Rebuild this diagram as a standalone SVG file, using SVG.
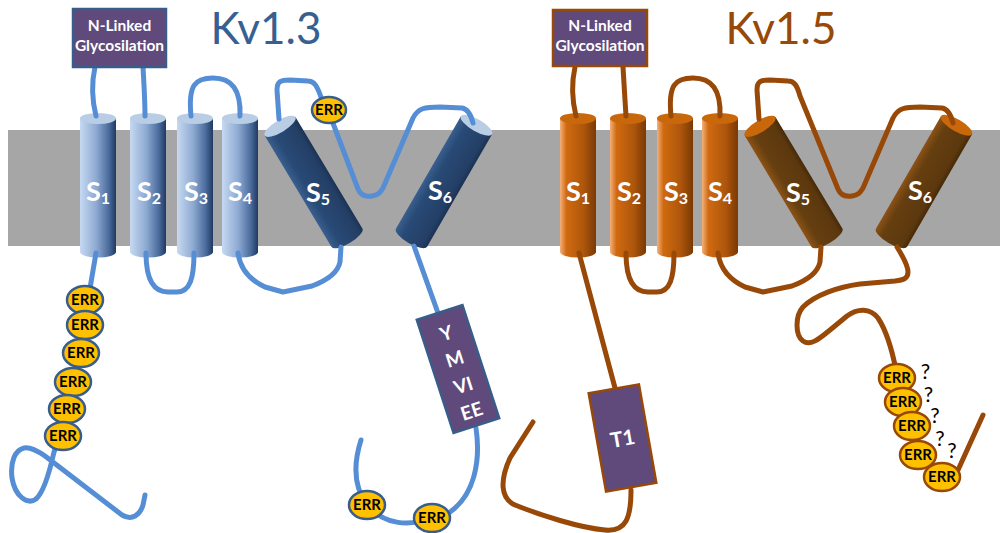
<svg xmlns="http://www.w3.org/2000/svg" width="1000" height="533" viewBox="0 0 1000 533">
  <defs>
    <linearGradient id="gBlue" x1="0" y1="0" x2="1" y2="0">
      <stop offset="0" stop-color="#c6d9f1"/>
      <stop offset="0.45" stop-color="#8eaad2"/>
      <stop offset="0.8" stop-color="#4a6b9c"/>
      <stop offset="1" stop-color="#1f3a62"/>
    </linearGradient>
    <linearGradient id="gNavy" x1="0" y1="0" x2="1" y2="0">
      <stop offset="0" stop-color="#3a5f8e"/>
      <stop offset="0.25" stop-color="#284a76"/>
      <stop offset="0.85" stop-color="#243f66"/>
      <stop offset="1" stop-color="#1b3254"/>
    </linearGradient>
    <linearGradient id="gOrange" x1="0" y1="0" x2="1" y2="0">
      <stop offset="0" stop-color="#f4b07a"/>
      <stop offset="0.18" stop-color="#d06a10"/>
      <stop offset="0.65" stop-color="#ae560c"/>
      <stop offset="1" stop-color="#7a3905"/>
    </linearGradient>
    <linearGradient id="gBrown" x1="0" y1="0" x2="1" y2="0">
      <stop offset="0" stop-color="#8c5216"/>
      <stop offset="0.25" stop-color="#663f10"/>
      <stop offset="0.85" stop-color="#5c380e"/>
      <stop offset="1" stop-color="#472a08"/>
    </linearGradient>
    <style>
      .title { font-family: Lato, "Liberation Sans", sans-serif; font-size: 44px; text-anchor: middle; }
      .lbl { font-family: Lato, "Liberation Sans", sans-serif; font-weight: bold; fill: #ffffff; text-anchor: middle; }
      .seg { font-size: 27px; }
      .sub { font-size: 16px; }
      .glyc { font-size: 15.5px; }
      .err { font-family: Lato, "Liberation Sans", sans-serif; font-weight: bold; font-size: 15px; fill: #000000; text-anchor: middle; }
      .q { font-family: Lato, "Liberation Sans", sans-serif; font-size: 21px; fill: #000000; text-anchor: middle; }
      .chainA { fill: none; stroke: #558ed5; stroke-width: 5; stroke-linecap: round; stroke-linejoin: round; }
      .chainB { fill: none; stroke: #984807; stroke-width: 5; stroke-linecap: round; stroke-linejoin: round; }
      .boxA { fill: #604a7b; stroke: #385d8a; stroke-width: 2.5; }
      .boxB { fill: #604a7b; stroke: #984807; stroke-width: 2.5; }
      .errA { fill: #ffc000; stroke: #385d8a; stroke-width: 2.5; }
      .errB { fill: #ffc000; stroke: #984807; stroke-width: 2.5; }
      .topBlue { fill: #b9cde5; }
      .topOrange { fill: #c8680b; }
    </style>
    <!-- cylinder body templates: straight helix and tilted helix -->
    <path id="cylV" d="M-18,-66.5 L-18,67 A18,5.5 0 0 0 18,67 L18,-66.5 Z"/>
    <path id="cylT" d="M-18,-65 L-18,65 A18,6 0 0 0 18,65 L18,-65 Z"/>
  </defs>

  <!-- lipid membrane -->
  <rect x="8" y="130" width="992" height="116" fill="#a6a6a6"/>

  <!-- titles -->
  <text class="title" x="266" y="44" fill="#376092">Kv1.3</text>
  <text class="title" x="781" y="44" fill="#984807">Kv1.5</text>

  <!-- Kv1.3 helices -->
  <g id="kv13-s1" transform="translate(98,185)"><use href="#cylV" fill="url(#gBlue)"/><ellipse cx="0" cy="-66.5" rx="18" ry="5.5" class="topBlue"/></g>
  <g id="kv13-s2" transform="translate(148,185)"><use href="#cylV" fill="url(#gBlue)"/><ellipse cx="0" cy="-66.5" rx="18" ry="5.5" class="topBlue"/></g>
  <g id="kv13-s3" transform="translate(195,185)"><use href="#cylV" fill="url(#gBlue)"/><ellipse cx="0" cy="-66.5" rx="18" ry="5.5" class="topBlue"/></g>
  <g id="kv13-s4" transform="translate(240,185)"><use href="#cylV" fill="url(#gBlue)"/><ellipse cx="0" cy="-66.5" rx="18" ry="5.5" class="topBlue"/></g>
  <g id="kv13-s5" transform="translate(313.5,182) rotate(-31)"><use href="#cylT" fill="url(#gNavy)"/><ellipse cx="0" cy="-65" rx="18" ry="6" class="topBlue"/></g>
  <g id="kv13-s6" transform="translate(444,181.5) rotate(30)"><use href="#cylT" fill="url(#gNavy)"/><ellipse cx="0" cy="-65" rx="18" ry="6" class="topBlue"/></g>

  <!-- Kv1.5 helices -->
  <g id="kv15-s1" transform="translate(578,185)"><use href="#cylV" fill="url(#gOrange)"/><ellipse cx="0" cy="-66.5" rx="18" ry="5.5" class="topOrange"/></g>
  <g id="kv15-s2" transform="translate(628,185)"><use href="#cylV" fill="url(#gOrange)"/><ellipse cx="0" cy="-66.5" rx="18" ry="5.5" class="topOrange"/></g>
  <g id="kv15-s3" transform="translate(675,185)"><use href="#cylV" fill="url(#gOrange)"/><ellipse cx="0" cy="-66.5" rx="18" ry="5.5" class="topOrange"/></g>
  <g id="kv15-s4" transform="translate(720,185)"><use href="#cylV" fill="url(#gOrange)"/><ellipse cx="0" cy="-66.5" rx="18" ry="5.5" class="topOrange"/></g>
  <g id="kv15-s5" transform="translate(793.5,182) rotate(-31)"><use href="#cylT" fill="url(#gBrown)"/><ellipse cx="0" cy="-65" rx="18" ry="6" class="topOrange"/></g>
  <g id="kv15-s6" transform="translate(924,181.5) rotate(30)"><use href="#cylT" fill="url(#gBrown)"/><ellipse cx="0" cy="-65" rx="18" ry="6" class="topOrange"/></g>

  <!-- helix labels -->
  <g id="labels">
    <text class="lbl seg" x="98" y="201">S<tspan class="sub" dy="3">1</tspan></text>
    <text class="lbl seg" x="149" y="201">S<tspan class="sub" dy="3">2</tspan></text>
    <text class="lbl seg" x="196" y="201">S<tspan class="sub" dy="3">3</tspan></text>
    <text class="lbl seg" x="240" y="201">S<tspan class="sub" dy="3">4</tspan></text>
    <text class="lbl seg" x="318" y="202">S<tspan class="sub" dy="3">5</tspan></text>
    <text class="lbl seg" x="440" y="200">S<tspan class="sub" dy="3">6</tspan></text>
    <text class="lbl seg" x="578" y="201">S<tspan class="sub" dy="3">1</tspan></text>
    <text class="lbl seg" x="629" y="201">S<tspan class="sub" dy="3">2</tspan></text>
    <text class="lbl seg" x="676" y="201">S<tspan class="sub" dy="3">3</tspan></text>
    <text class="lbl seg" x="720" y="201">S<tspan class="sub" dy="3">4</tspan></text>
    <text class="lbl seg" x="798" y="202">S<tspan class="sub" dy="3">5</tspan></text>
    <text class="lbl seg" x="920" y="200">S<tspan class="sub" dy="3">6</tspan></text>
  </g>

  <!-- peptide chain segments -->
  <g id="connectors">
    <!-- Kv1.3 -->
    <path class="chainA" d="M95,67 C91,85 92,100 96,116"/>
    <path class="chainA" d="M143,67 C144,85 145,100 145,116"/>
    <path class="chainA" d="M191,116 C188,85 195,78 213,78 C232,78 241,90 240,116"/>
    <path class="chainA" d="M279,119 L277,90 C277,81 281,80 290,80 L308,81 C314,81 317,85 322,100"/>
    <path class="chainA" d="M331,118 L358,189 C361,196 366,197 372,196 C378,195 380,193 383,188 L413,118 C418,108 425,107 440,107 L462,108 C468,109 471,115 473,123"/>
    <path class="chainA" d="M96,253 L88,300 L84,325 L80,353 L72,382 L66,409 L60,436 L54,452 C50,470 44,492 36,499 C28,505 15,497 12,478 C10,462 15,450 24,448 C30,447 36,450 45,456 L122,515 C132,521 140,515 143,505 L145,495"/>
    <path class="chainA" d="M146,253 C146,282 155,292 168,292 L177,292 C190,292 194,278 194,253"/>
    <path class="chainA" d="M238,253 C240,268 250,280 265,287 L283,292 L312,286 C328,280 338,272 340,262 L341,247"/>
    <path class="chainA" d="M414,246 L438,313"/>
    <path class="chainA" d="M476,428 C481,462 474,495 450,512 L432,518 C410,526 385,526 367,505 C353,486 354,462 361,440"/>
    <!-- Kv1.5 -->
    <path class="chainB" d="M575,67 C571,85 572,100 576,116"/>
    <path class="chainB" d="M623,67 C624,85 625,100 626,116"/>
    <path class="chainB" d="M671,116 C668,85 675,78 693,78 C712,78 721,90 720,116"/>
    <path class="chainB" d="M759,119 L757,90 C757,81 761,80 770,80 L788,81 C794,81 797,85 800,96 L838,189 C841,196 846,197 852,196 C858,195 860,193 863,188 L893,118 C898,108 905,107 920,107 L942,108 C948,109 951,115 953,123"/>
    <path class="chainB" d="M579,253 L615,388"/>
    <path class="chainB" d="M631,490 C631,518 626,532 605,530 C580,528 540,515 515,505 C500,498 500,480 510,458 L533,422"/>
    <path class="chainB" d="M626,253 C626,282 635,292 648,292 L657,292 C670,292 674,278 674,253"/>
    <path class="chainB" d="M718,253 C720,268 730,280 745,287 L763,292 L792,286 C808,280 818,272 820,262 L821,247"/>
    <path class="chainB" d="M897,247 C902,255 908,265 908,272 C908,279 903,280 895,281 L860,284 C838,287 815,295 803,307 C795,316 795,335 803,341 C810,346 818,340 830,330 L847,316 C858,308 870,308 878,318 C886,330 892,350 896,370 L903,402 L912,426 L918,455 L942,477 L958,470 L983,415"/>
  </g>

  <!-- glycosylation sites -->
  <g id="kv13-glyc">
    <rect class="boxA" x="73" y="9" width="93" height="58"/>
    <text class="lbl glyc" x="119.5" y="31">N-Linked</text>
    <text class="lbl glyc" x="119.5" y="51">Glycosilation</text>
  </g>
  <g id="kv15-glyc">
    <rect class="boxB" x="553" y="10" width="94" height="56"/>
    <text class="lbl glyc" x="600" y="31">N-Linked</text>
    <text class="lbl glyc" x="600" y="51">Glycosilation</text>
  </g>

  <!-- C-terminal motif and T1 domain -->
  <g id="kv13-motif" transform="translate(458,369) rotate(-18)">
    <rect class="boxA" x="-24" y="-59.5" width="48" height="119"/>
    <text class="lbl" font-size="19" x="0" y="-31">Y</text>
    <text class="lbl" font-size="19" x="0" y="-4">M</text>
    <text class="lbl" font-size="19" x="0" y="24">VI</text>
    <text class="lbl" font-size="19" x="0" y="51">EE</text>
  </g>
  <g id="kv15-t1" transform="translate(622.5,438) rotate(-10)">
    <rect class="boxB" x="-25.5" y="-50" width="51" height="100"/>
    <text class="lbl" font-size="21" x="0" y="8">T1</text>
  </g>

  <!-- ERR motifs, Kv1.3 -->
  <g id="kv13-err-loop"><ellipse class="errA" cx="329" cy="110" rx="17" ry="13"/><text class="err" x="329" y="115">ERR</text></g>
  <g id="kv13-err-n1"><ellipse class="errA" cx="85" cy="300" rx="18" ry="14"/><text class="err" x="85" y="305">ERR</text></g>
  <g id="kv13-err-n2"><ellipse class="errA" cx="85" cy="325" rx="18" ry="14"/><text class="err" x="85" y="330">ERR</text></g>
  <g id="kv13-err-n3"><ellipse class="errA" cx="81" cy="353" rx="18" ry="14"/><text class="err" x="81" y="358">ERR</text></g>
  <g id="kv13-err-n4"><ellipse class="errA" cx="73" cy="382" rx="18" ry="14"/><text class="err" x="73" y="387">ERR</text></g>
  <g id="kv13-err-n5"><ellipse class="errA" cx="67" cy="409" rx="18" ry="14"/><text class="err" x="67" y="414">ERR</text></g>
  <g id="kv13-err-n6"><ellipse class="errA" cx="63" cy="436" rx="18" ry="14"/><text class="err" x="63" y="441">ERR</text></g>
  <g id="kv13-err-c1"><ellipse class="errA" cx="367" cy="505" rx="18" ry="14"/><text class="err" x="367" y="510">ERR</text></g>
  <g id="kv13-err-c2"><ellipse class="errA" cx="432" cy="518" rx="18" ry="14"/><text class="err" x="432" y="523">ERR</text></g>

  <!-- ERR motifs, Kv1.5 -->
  <g id="kv15-err-c1"><ellipse class="errB" cx="897" cy="378" rx="18" ry="14"/><text class="err" x="897" y="383">ERR</text></g>
  <g id="kv15-err-c2"><ellipse class="errB" cx="903" cy="402" rx="18" ry="14"/><text class="err" x="903" y="407">ERR</text></g>
  <g id="kv15-err-c3"><ellipse class="errB" cx="912" cy="426" rx="18" ry="14"/><text class="err" x="912" y="431">ERR</text></g>
  <g id="kv15-err-c4"><ellipse class="errB" cx="918" cy="455" rx="18" ry="14"/><text class="err" x="918" y="460">ERR</text></g>
  <g id="kv15-err-c5"><ellipse class="errB" cx="942" cy="477" rx="18" ry="14"/><text class="err" x="942" y="482">ERR</text></g>

  <!-- uncertain sites -->
  <g id="kv15-question">
    <text class="q" x="925.5" y="379">?</text>
    <text class="q" x="928.5" y="402">?</text>
    <text class="q" x="935" y="423">?</text>
    <text class="q" x="940" y="446">?</text>
    <text class="q" x="952" y="458">?</text>
  </g>
</svg>
